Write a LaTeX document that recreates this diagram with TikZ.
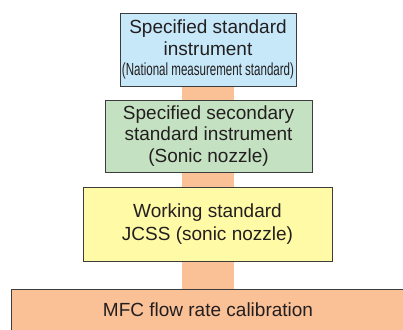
\documentclass[tikz,border=0pt]{standalone}
\usepackage{fontspec}
\setmainfont{Liberation Sans}
\usetikzlibrary{backgrounds}
\definecolor{bxblue}{RGB}{198,232,248}
\definecolor{bxgreen}{RGB}{196,225,193}
\definecolor{bxyellow}{RGB}{255,250,165}
\definecolor{bxorange}{RGB}{250,193,150}
\definecolor{bxedge}{RGB}{60,60,60}
\definecolor{txt}{RGB}{35,31,32}
\tikzset{
  box/.style={draw=bxedge, line width=0.9pt, align=center, text=txt, inner sep=0pt,
    font=\fontsize{19}{21.5}\selectfont},
}
\begin{document}
\begin{tikzpicture}[x=1pt,y=-1pt]
\useasboundingbox (0,0) rectangle (403,329);
\clip (0,0) rectangle (403,329);
\node[box, fill=bxblue, minimum width=176pt, minimum height=73pt] (b1) at (208,49.5)
  {Specified standard\\instrument\\[-1pt]\scalebox{0.66}[1]{\fontsize{17.5}{19}\selectfont (National measurement standard)}};
\node[box, fill=bxgreen, minimum width=207pt, minimum height=72pt] (b2) at (208.5,136)
  {Specified secondary\\standard instrument\\(Sonic nozzle)};
\node[box, fill=bxyellow, minimum width=249pt, minimum height=74pt, font=\fontsize{19}{23.5}\selectfont] (b3) at (207.5,224)
  {Working standard\\JCSS (sonic nozzle)};
\node[box, fill=bxorange, minimum width=410pt, minimum height=56pt, anchor=north west, text depth=0pt] (b4) at (11,289) {};
\node[text=txt, font=\fontsize{19}{21.5}\selectfont, anchor=center] (b4t) at (208,310) {MFC flow rate calibration};
\begin{scope}[on background layer]
\draw[bxorange, line width=52pt] (b1.south) -- (b1.south |- b4.north);
\end{scope}
\end{tikzpicture}
\end{document}
